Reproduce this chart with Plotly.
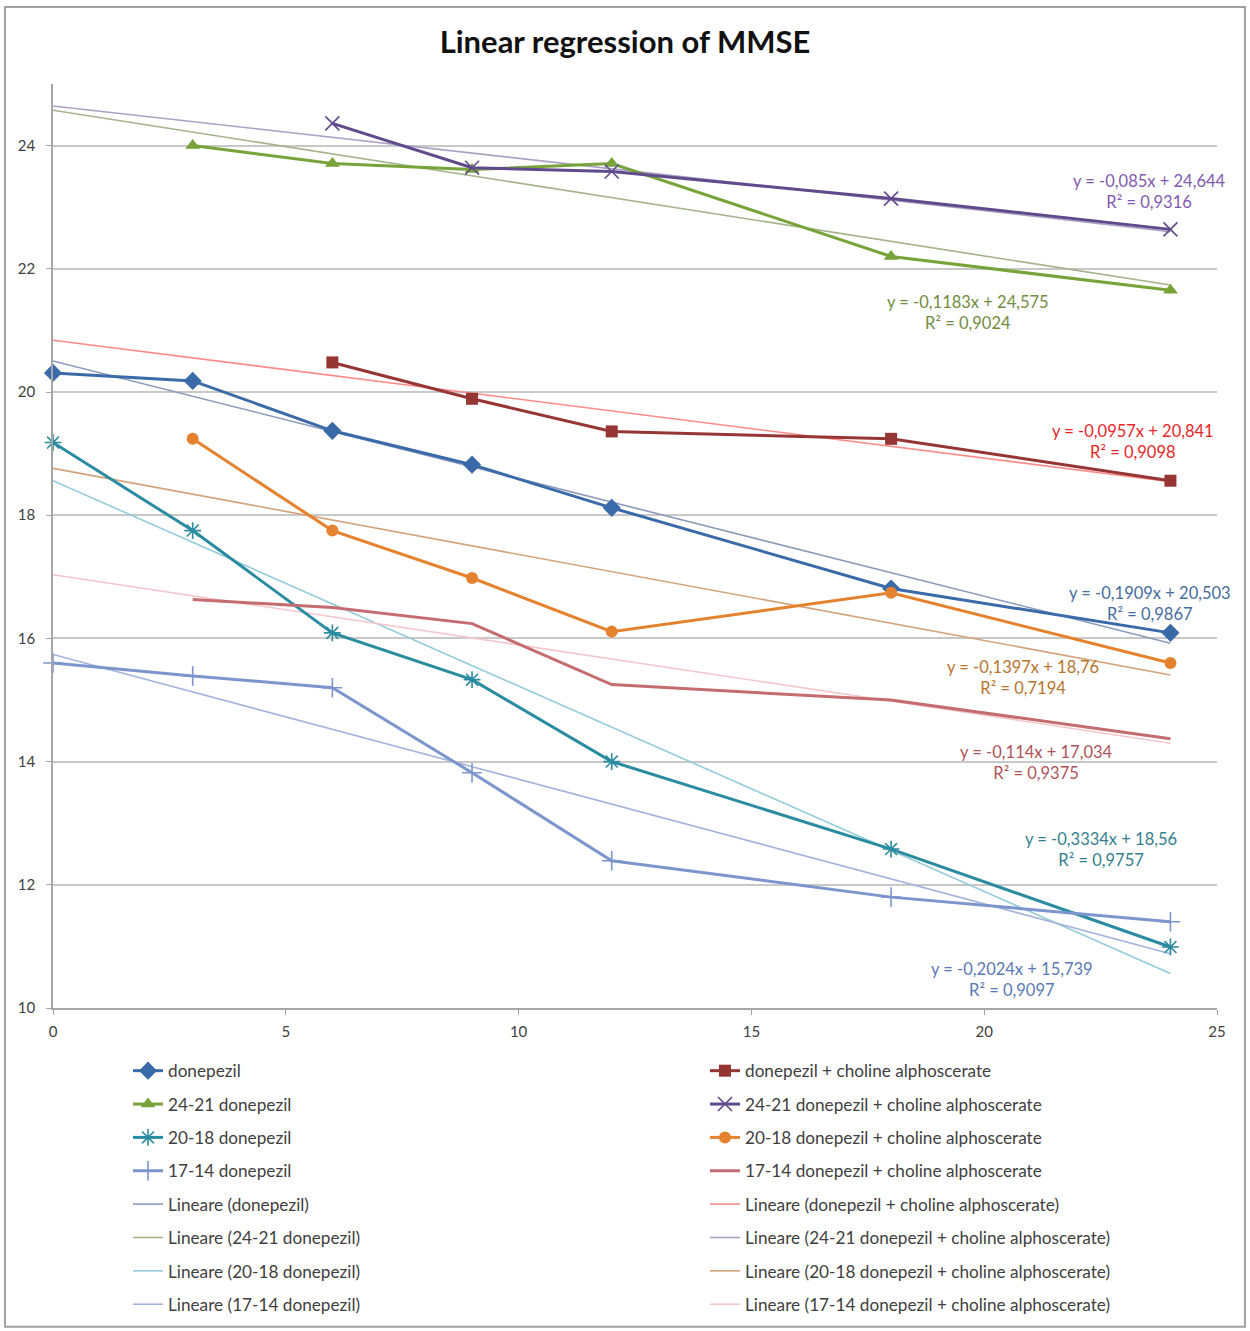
import plotly.graph_objects as go

# Visit times (months)
months = [0, 3, 6, 9, 12, 18, 24]

# MMSE means per group (None = no visit value)
donepezil = [20.31, 20.18, 19.37, 18.82, 18.12, 16.81, 16.09]
donepezil_cho = [None, None, 20.48, 19.89, 19.36, 19.24, 18.56]
d24_21 = [None, 24.0, 23.71, 23.61, 23.71, 22.20, 21.65]
d24_21_cho = [None, None, 24.36, 23.64, 23.58, 23.14, 22.64]
d20_18 = [19.18, 17.75, 16.09, 15.33, 14.0, 12.58, 10.99]
d20_18_cho = [None, 19.24, 17.75, 16.98, 16.11, 16.74, 15.60]
d17_14 = [15.60, 15.39, 15.20, 13.82, 12.39, 11.80, 11.40]
d17_14_cho = [None, 16.63, 16.50, 16.24, 15.25, 15.0, 14.37]

# Linear fits: slope, intercept, R²
fit_slopes = [-0.1909, -0.0957, -0.1183, -0.085, -0.3334, -0.1397, -0.2024, -0.114]
fit_intercepts = [20.503, 20.841, 24.575, 24.644, 18.56, 18.76, 15.739, 17.034]
fit_r2 = [0.9867, 0.9098, 0.9024, 0.9316, 0.9757, 0.7194, 0.9097, 0.9375]

series_names = [
    "donepezil", "donepezil + choline alphoscerate",
    "24-21 donepezil", "24-21 donepezil + choline alphoscerate",
    "20-18 donepezil", "20-18 donepezil + choline alphoscerate",
    "17-14 donepezil", "17-14 donepezil + choline alphoscerate",
]
series_values = [donepezil, donepezil_cho, d24_21, d24_21_cho,
                 d20_18, d20_18_cho, d17_14, d17_14_cho]

line_colors = ["#3A6AA8", "#963634", "#77A33A", "#614A8C",
               "#2B8BA0", "#E5822E", "#7C95CD", "#C46C70"]
fit_colors = ["#8C9BBA", "#FF8A8A", "#A5B38C", "#ABA1C4",
              "#93CCD8", "#D3A47C", "#A3B4DC", "#F4C7CC"]
label_colors = ["#476C9E", "#E8262A", "#728C43", "#7F5AAF",
                "#347F8E", "#B7742F", "#5B79B6", "#B0535A"]
symbols = ["diamond", "square", "triangle-up", "x-thin",
           "asterisk", "circle", "cross-thin", None]
marker_sizes = [14, 12, 13, 14, 14, 12, 14, 0]
# equation label anchor points (x, y in data units)
label_pos = [(23.56, 16.56), (23.20, 19.19), (19.65, 21.29), (23.56, 23.25),
             (22.51, 12.57), (20.83, 15.36), (20.60, 10.47), (21.13, 13.99)]

FONT = "Lato, 'Open Sans', sans-serif"
fig = go.Figure()

# regression lines first so the data lines sit on top
fit_x = [0, 24]
for i, name in enumerate(series_names):
    col = i % 2
    row = i // 2
    fig.add_trace(go.Scatter(
        x=fit_x, y=[fit_intercepts[i] + fit_slopes[i] * xv for xv in fit_x],
        mode="lines", line=dict(color=fit_colors[i], width=1.6),
        name=f"Lineare ({name})", legendgroup=f"fit{i}",
        legend="legend" if col == 0 else "legend2",
        legendrank=5 + row, hoverinfo="skip",
    ))

for i, name in enumerate(series_names):
    col = i % 2
    row = i // 2
    sym = symbols[i]
    thin = sym in ("x-thin", "asterisk", "cross-thin")
    if sym is None:
        mode = "lines"
        marker = None
    else:
        mode = "lines+markers"
        marker = dict(symbol=sym, size=marker_sizes[i],
                      color=line_colors[i],
                      line=dict(color=line_colors[i], width=1.6 if thin else 0))
    fig.add_trace(go.Scatter(
        x=months, y=series_values[i], mode=mode, marker=marker,
        line=dict(color=line_colors[i], width=3),
        name=name, legendgroup=f"data{i}", connectgaps=False,
        legend="legend" if col == 0 else "legend2",
        legendrank=1 + row, cliponaxis=False,
    ))

def fmt(v):
    return str(v).replace(".", ",")

for i in range(len(series_names)):
    fig.add_annotation(
        x=label_pos[i][0], y=label_pos[i][1], xref="x", yref="y",
        text=f"y = {fmt(fit_slopes[i])}x + {fmt(fit_intercepts[i])}<br>R² = {fmt(fit_r2[i])}",
        showarrow=False, align="center",
        font=dict(family=FONT, size=16.5, color=label_colors[i]),
    )

# outer chart border
fig.add_shape(type="rect", xref="paper", yref="paper",
              x0=-0.0412, x1=1.024, y0=-0.345, y1=1.0833,
              line=dict(color="#A0A0A0", width=2), layer="below")

legend_common = dict(
    orientation="v", traceorder="grouped", tracegroupgap=8,
    font=dict(family=FONT, size=17.2, color="#404040"),
    bgcolor="rgba(0,0,0,0)", xanchor="left", yanchor="top",
    itemclick=False, itemdoubleclick=False,
)

fig.update_layout(
    width=1250, height=1331,
    margin=dict(l=53, r=33, t=84, b=323, autoexpand=False),
    paper_bgcolor="white", plot_bgcolor="white",
    title=dict(text="<b>Linear regression of MMSE</b>", x=0.5, xanchor="center",
               y=1 - 42 / 1331, yanchor="middle",
               font=dict(family=FONT, size=31, color="#111111")),
    font=dict(family=FONT, color="#404040"),
    xaxis=dict(range=[0, 25], dtick=5, tick0=0, showgrid=False, zeroline=False,
               showline=True, linecolor="#A6A6A6", linewidth=1.5,
               ticks="outside", ticklen=5, tickcolor="#A6A6A6",
               ticklabelstandoff=4,
               tickfont=dict(family=FONT, size=15, color="#404040")),
    yaxis=dict(range=[10, 25], dtick=2, tick0=10, showgrid=True,
               gridcolor="#C8C8C8", gridwidth=2, zeroline=False,
               showline=True, linecolor="#A6A6A6", linewidth=1.5,
               ticks="outside", ticklen=5, tickcolor="#A6A6A6",
               ticklabelstandoff=8,
               tickfont=dict(family=FONT, size=15, color="#404040")),
    showlegend=True,
    legend=dict(x=(128 - 53) / 1164, y=(1008 - 1053) / 924, **legend_common),
    legend2=dict(x=(705 - 53) / 1164, y=(1008 - 1053) / 924, **legend_common),
)

fig.write_html("out.html")
